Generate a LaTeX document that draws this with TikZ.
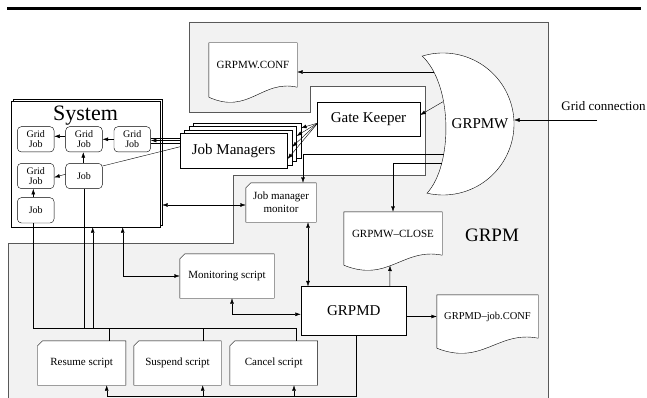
\documentclass[tikz,border=0pt]{standalone}
\usepackage{fontspec}
\setmainfont{Liberation Serif}
\usetikzlibrary{positioning, calc, shadows, arrows.meta}

\pgfdeclarelayer{back}
\pgfdeclarelayer{docs}
\pgfsetlayers{back,docs,main}

% outline of a document node with a wavy bottom edge
\newcommand{\wavydoc}[1]{%
  \draw[docline] (#1.south east) -- (#1.north east) -- (#1.north west) -- ([yshift=-10pt]#1.south west)
    .. controls ($(#1.south west)!.45!(#1.south east)+(0pt,-28pt)$)
    and ($(#1.south east)!.4!(#1.south west)+(0pt,8pt)$) .. (#1.south east) -- cycle;}
% outline of a script node, top left corner cut off
\newcommand{\cutbox}[1]{%
  \draw[docline] ([xshift=5pt]#1.north west) -- (#1.north east) -- (#1.south east)
    -- (#1.south west) -- ([yshift=-5pt]#1.north west) -- cycle;}

\begin{document}
\begin{tikzpicture}[
        x=1pt, y=-1pt, line width=1pt,
        >={Latex[length=5.5pt,width=3.8pt]},
        box/.style={
          draw, fill=white, inner sep=0pt, align=center
        },
        bigtext/.style={font=\fontsize{15}{17}\selectfont},
        smalltext/.style={font=\fontsize{11}{13}\selectfont},
        jobbox/.style={
          box, rounded corners=4pt, minimum width=36.7pt, minimum height=25.3pt,
          font=\fontsize{10}{10.5}\selectfont
        },
        scriptbox/.style={inner sep=0pt, align=center, smalltext},
        doc/.style={inner sep=0pt, align=center, smalltext},
        docline/.style={draw, fill=white},
        region/.style={draw=black!65, fill=black!5},
      ]
        \useasboundingbox (0,0) rectangle (647,398);
        \draw[line width=2.6pt] (7,8.5) -- (641,8.5);

        % GRPM area
        \begin{pgfonlayer}{back}
          \draw[region] (189,22) -- (548,22) -- (548,402) -- (8,402) -- (8,243) -- (233,243)
            -- (233,175) -- (425,175) -- (425,86) -- (310,86) -- (310,112) -- (189,112) -- cycle;
        \end{pgfonlayer}
        \node[font=\fontsize{19}{21}\selectfont] (grpm_label) at (492,235) {GRPM};

        % System and its jobs
        \node[box, minimum width=149pt, minimum height=126pt,
          copy shadow={shadow xshift=2pt, shadow yshift=2pt}] (sys) at (85.5,164) {};
        \node[font=\fontsize{22}{24}\selectfont] (sys_title) at (85.5,116) {System};
        \node[jobbox] (gjob_a) at (35.7,139.3) {Grid\\Job};
        \node[jobbox] (gjob_b) at (84,139.3) {Grid\\Job};
        \node[jobbox] (gjob_c) at (132.3,139.3) {Grid\\Job};
        \node[jobbox] (gjob_d) at (35.7,176) {Grid\\Job};
        \node[jobbox] (job_e) at (84,176) {Job};
        \node[jobbox] (job_f) at (35.7,210.3) {Job};

        % Job managers and gate keeper
        \node[box, bigtext, minimum width=107.3pt, minimum height=35pt,
          copy shadow={shadow xshift=13.5pt, shadow yshift=9.9pt},
          copy shadow={shadow xshift=9pt, shadow yshift=6.6pt},
          copy shadow={shadow xshift=4.5pt, shadow yshift=3.3pt}] (job_managers) at (233.7,150.8) {Job Managers};
        \node[box, bigtext, minimum width=103pt, minimum height=34pt] (gate_keeper) at (368.5,119) {Gate Keeper};

        % GRPMW
        \draw[fill=white] (443,124) ++(107:71pt) arc[start angle=107, end angle=-103, radius=71pt]
          .. controls (453,165) and (453,85) .. (422.2,56.1) -- cycle;
        \node[bigtext] (grpmw) at (480,124) {GRPMW};
        \coordinate (grpmw_conf_out) at (434,72);
        \coordinate (grpmw_gk_out) at (443,101.7);
        \coordinate (grpmw_jmm_out) at (443.5,154);
        \coordinate (grpmw_close_out) at (441.5,163);
        \coordinate (grpmw_in) at (514,120);
        \coordinate (grid_end) at (597,120);
        \node[font=\fontsize{13}{15}\selectfont] (grid_label) at (603.5,106) {Grid connection};

        % files
        \node[doc, minimum width=88pt, minimum height=44pt] (grpmw_conf) at (253,65) {GRPMW.CONF};
        \node[doc, minimum width=98pt, minimum height=43pt] (grpmw_close) at (393,233.5) {GRPMW\textendash CLOSE};
        \node[doc, font=\fontsize{10.5}{12}\selectfont, minimum width=101pt, minimum height=43pt] (grpmd_conf) at (487.5,316.5) {GRPMD\textendash job.CONF};

        % scripts and daemon
        \node[scriptbox, minimum width=70pt, minimum height=39pt] (jm_monitor) at (281,202.5) {Job manager\\monitor};
        \node[scriptbox, minimum width=94pt, minimum height=44pt] (mon_script) at (227,276) {Monitoring script};
        \node[box, bigtext, minimum width=105.7pt, minimum height=48.3pt] (grpmd) at (353.8,310.8) {GRPMD};
        \node[scriptbox, minimum width=88pt, minimum height=44pt] (resume_script) at (81.7,363) {Resume script};
        \node[scriptbox, minimum width=87pt, minimum height=44pt] (suspend_script) at (177.5,363) {Suspend script};
        \node[scriptbox, minimum width=87.3pt, minimum height=44pt] (cancel_script) at (273.7,363) {Cancel script};

        \begin{pgfonlayer}{docs}
          \wavydoc{grpmw_conf}
          \wavydoc{grpmw_close}
          \wavydoc{grpmd_conf}
          \foreach \s in {jm_monitor, mon_script, resume_script, suspend_script, cancel_script}
            {\cutbox{\s}}
        \end{pgfonlayer}

        % GRPMW links
        \draw[->] (grid_end) -- (grpmw_in);
        \draw[->] (grpmw_conf_out) -- (grpmw_conf_out -| grpmw_conf.east);
        \draw[->] (grpmw_gk_out) -- ($(gate_keeper.east)+(0,-4)$);
        \draw[->] (grpmw_jmm_out) -| ($(jm_monitor.north)+(22,0)$);
        \draw[->] (grpmw_close_out) -| (grpmw_close.north);

        % gate keeper fans out to the job managers
        \coordinate (gk_fan) at ($(gate_keeper.west)+(1,4)$);
        \foreach \dx/\dy in {13.5/-22.8, 9/-14.8, 4.5/-3.8, 0/8.2}
          \draw[->] (gk_fan) -- ($(job_managers.east)+(\dx,\dy)$);

        % job managers into the system
        \foreach \dy in {-1.2, 3.6}
          \draw ($(job_managers.west |- gjob_c.east)+(0,\dy)$) -- ($(gjob_c.east)+(0,\dy)$);
        \draw[->] ($(job_managers.west |- gjob_c.east)+(0,1.2)$) -- ($(gjob_c.east)+(0,1.2)$);
        \draw ($(job_managers.west)+(0,-4)$) -- ($(job_e.east)+(0,-10)$);

        % jobs inside the system
        \draw[->] (gjob_c) -- (gjob_b);
        \draw[->] ($(gjob_b.west)+(0,-3)$) -- ($(gjob_a.east)+(0,-3)$);
        \draw[->] ($(job_e.west)+(0,-1.7)$) -- ($(gjob_d.east)+(0,1.3)$);
        \draw[->] ($(job_f.north)+(-2.4,0)$) -- ($(gjob_d.south)+(-2.4,0)$);
        \draw[->] ($(job_e.north)+(-0.7,0)$) -- ($(gjob_b.south)+(-0.7,0)$);

        % monitors
        \draw[<->] ($(sys.east |- jm_monitor.west)+(2,2.5)$) -- ($(jm_monitor.west)+(0,2.5)$);
        \path ($(jm_monitor.south)+(27,0)$) coordinate (jmm_down);
        \draw[<->] (jmm_down) -- (jmm_down |- grpmd.north);
        \path ($(sys.south)+(37.2,0)$) coordinate (sys_mon);
        \draw[<->] (sys_mon) |- (mon_script.west);
        \draw[<->] ($(mon_script.south)+(5,0)$) |- ($(grpmd.west)+(0,3.5)$);

        % GRPMD outputs
        \path ($(grpmd.north)+(36,0)$) coordinate (md_up);
        \coordinate (close_wave) at (390,265.5);
        \draw[->] (md_up) -- (close_wave);
        \draw[->] (grpmd.east |- grpmd_conf.west) -- (grpmd_conf.west);

        % script control lines
        \coordinate (bus) at (0,328.3);
        \coordinate (ret) at (0,396);
        \path ($(job_f.south)+(-2.4,0)$) coordinate (job_f_down)
              ($(sys.south)+(7.2,0)$) coordinate (sys_ctl)
              ($(resume_script.north)+(27.6,0)$) coordinate (res_top)
              ($(suspend_script.north)+(25.2,0)$) coordinate (sus_top)
              ($(cancel_script.north)+(22.3,0)$) coordinate (can_top)
              ($(resume_script.south)+(25,0)$) coordinate (res_bot)
              ($(suspend_script.south)+(25.2,0)$) coordinate (sus_bot)
              ($(cancel_script.south)+(20.3,0)$) coordinate (can_bot)
              ($(grpmd.south)+(2.2,0)$) coordinate (md_down);
        \draw (job_f_down) |- (can_top |- bus) -- (can_top);
        \draw (job_e.south) -- (job_e.south |- bus);
        \draw[->] (sys_ctl |- bus) -- (sys_ctl);
        \draw (res_top |- bus) -- (res_top);
        \draw (sus_top |- bus) -- (sus_top);
        \draw (md_down) |- (res_bot |- ret);
        \foreach \p in {res_bot, sus_bot, can_bot}
          \draw[->] (\p |- ret) -- (\p);

      \end{tikzpicture}
\end{document}
